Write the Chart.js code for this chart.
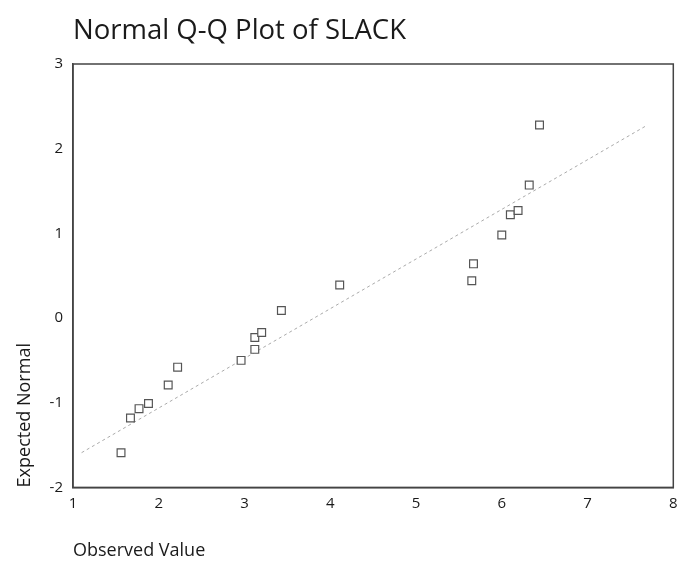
<!DOCTYPE html>
<html>
<head>
<meta charset="utf-8">
<script src="https://cdn.jsdelivr.net/npm/chart.js@4/dist/chart.umd.min.js"></script>
<style>
  html,body{margin:0;padding:0;background:#fff;}
  #wrap{width:680px;height:563px;}
</style>
</head>
<body>
<div id="wrap"><canvas id="c"></canvas></div>
<script>
// Normal Q-Q plot of SLACK
const observed = [1.56, 1.67, 1.77, 1.88, 2.11, 2.22, 2.96, 3.12, 3.12, 3.20, 3.43, 4.11, 5.65, 5.67, 6.00, 6.10, 6.19, 6.32, 6.44];
const expected = [-1.59, -1.18, -1.07, -1.01, -0.79, -0.58, -0.50, -0.37, -0.23, -0.17, 0.09, 0.39, 0.44, 0.64, 0.98, 1.22, 1.27, 1.57, 2.28];
const lineX = [1.1, 7.7];
const lineY = [-1.59, 2.28];
const xTicks = [1, 2, 3, 4, 5, 6, 7, 8];
const yTicks = [-2, -1, 0, 1, 2, 3];

const points = observed.map((x, i) => ({x, y: expected[i]}));
const refLine = lineX.map((x, i) => ({x, y: lineY[i]}));

const ink = '#1a1a1a';
const frame = {
  id: 'frame',
  afterDraw(chart){
    const a = chart.chartArea, ctx = chart.ctx;
    ctx.save();
    ctx.strokeStyle = '#444';
    ctx.lineWidth = 1.5;
    ctx.strokeRect(a.left, a.top, a.right - a.left, a.bottom - a.top);
    ctx.restore();
  }
};

new Chart(document.getElementById('c'), {
  type: 'scatter',
  data: {
    datasets: [
      {label: 'Observed', data: points, pointStyle: 'rect', pointRadius: 5.5, pointBackgroundColor: '#fff', pointBorderColor: '#555', pointBorderWidth: 1.2, order: 0},
      {label: 'Line', data: refLine, type: 'line', showLine: true, borderColor: '#aaa', borderWidth: 1, borderDash: [3, 3], pointRadius: 0, fill: false, order: 1}
    ]
  },
  options: {
    responsive: true, maintainAspectRatio: false, animation: false,
    layout: {padding: {left: 4, right: 0, top: 15, bottom: 1}},
    plugins: {
      legend: {display: false}, tooltip: {enabled: false},
      title: {display: true, text: 'Normal Q-Q Plot of SLACK', align: 'start', fullSize: false, color: ink,
        font: {family: 'Open Sans', size: 27.5, weight: 'normal'}, padding: {top: 0, bottom: 16}}
    },
    scales: {
      x: {type: 'linear', min: 1, max: 8,
        afterBuildTicks: s => { s.ticks = xTicks.map(v => ({value: v})); },
        afterFit: s => { s.paddingRight = 1; },
        grid: {display: false, drawTicks: true, tickLength: 5, tickColor: '#444'},
        border: {display: true, color: '#444', width: 1.5},
        ticks: {color: ink, font: {family: 'Open Sans', size: 15}, padding: 2},
        title: {display: true, text: 'Observed Value', align: 'start', color: ink, font: {family: 'Open Sans', size: 18}, padding: {top: 26, bottom: 0}}
      },
      y: {type: 'linear', min: -2, max: 3,
        afterBuildTicks: s => { s.ticks = yTicks.map(v => ({value: v})); },
        grid: {display: false, drawTicks: true, tickLength: 5, tickColor: '#444'},
        border: {display: true, color: '#444', width: 1.5},
        ticks: {color: ink, font: {family: 'Open Sans', size: 15}, padding: 5},
        title: {display: true, text: 'Expected Normal', align: 'start', color: ink, font: {family: 'Open Sans', size: 18}, padding: {top: 10, bottom: 9}}
      }
    }
  },
  plugins: [frame]
});
</script>
</body>
</html>
